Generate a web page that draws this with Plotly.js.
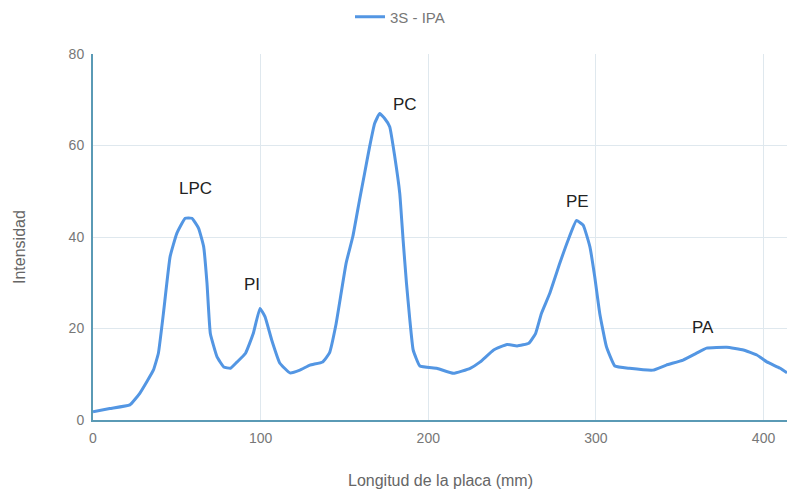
<!DOCTYPE html>
<html>
<head>
<meta charset="utf-8">
<script src="https://cdn.plot.ly/plotly-3.0.1.min.js"></script>
<style>html,body{margin:0;padding:0;background:#fff;}#chart{width:787px;height:493px;}</style>
</head>
<body>
<div id="chart"></div>
<script>
const seriesName = "3S - IPA";
const xMm = [0,10,22,28,36,39,42,46,50,55,59,63,66,68,70,74,78,82,86,91,95.6,99.6,102.6,106.6,111.5,117.5,123.4,129.4,137,141,145,151,155,159,162,165,168,171,174,177,180,183,185,187,189,191,195,205,215,225,231,239,247,253,260,264,267.5,272.5,278.5,283.4,288.4,292.4,296.4,299.3,302.3,306.3,311.3,320,334,342,352,360,366,378,388,396,402,410,414];
const intensity = [1.8,2.5,3.3,5.9,10.9,14.6,23.3,35.7,40.8,44.1,44.1,41.9,37.9,29.9,18.9,13.8,11.6,11.3,12.7,14.6,18.9,24.4,22.6,17.5,12.4,10.3,10.9,12.0,12.7,14.6,21,34.3,40.1,48.1,53.9,59.7,64.8,67.0,65.9,64.1,57.6,49.5,39.3,29.9,21.9,15.3,11.8,11.3,10.2,11.3,12.7,15.3,16.5,16.2,16.8,18.9,23.3,27.7,34.3,39.3,43.6,42.6,37.9,31.3,23.3,16.0,11.8,11.3,10.9,12.0,13.1,14.6,15.7,15.9,15.3,14.2,12.7,11.3,10.3];
const peakLabels = ["LPC","PI","PC","PE","PA"];
const peakX = [61,95,186,289,364];
const peakY = [50.7,29.7,68.9,47.7,20.3];
const xTicks = [0,100,200,300,400];
const yTicks = [0,20,40,60,80];

const FONT = "Liberation Sans, Arial, sans-serif";
const annotations = peakLabels.map((t,i)=>({
  x: peakX[i], y: peakY[i], text: t, showarrow: false,
  font: {family: FONT, size: 17, color: "#222"}
}));
annotations.push({xref: "paper", yref: "paper", x: (440-93)/694, y: -(480-420)/366,
  text: "Longitud de la placa (mm)", showarrow: false, xanchor: "center", yanchor: "middle",
  font: {family: FONT, size: 16, color: "#666"}});
annotations.push({xref: "paper", yref: "paper", x: -(93-19)/694, y: (420-247)/366,
  text: "Intensidad", showarrow: false, textangle: -90, xanchor: "center", yanchor: "middle",
  font: {family: FONT, size: 16, color: "#666"}});

Plotly.newPlot("chart", [{
  x: xMm, y: intensity, type: "scatter", mode: "lines", name: seriesName,
  line: {color: "#5396e3", width: 3, shape: "spline", smoothing: 0.35}
}], {
  width: 787, height: 493,
  margin: {l: 93, r: 0, t: 54, b: 73},
  paper_bgcolor: "#fff", plot_bgcolor: "#fff",
  font: {family: FONT, color: "#777", size: 13},
  showlegend: true,
  legend: {orientation: "h", x: (400-93)/694, xanchor: "center", y: 1 + (54-17)/366, yanchor: "middle",
           font: {size: 15, color: "#777"}},
  xaxis: {range: [0, 414], tickvals: xTicks, ticktext: xTicks.map(String),
          showgrid: true, gridcolor: "#dfe8ee", zeroline: false,
          showline: true, linecolor: "#5a9ab5", linewidth: 2,
          ticks: "outside", ticklen: 4, tickcolor: "rgba(0,0,0,0)", tickfont: {size: 14, color: "#777"}},
  yaxis: {range: [0, 80], tickvals: yTicks, ticktext: yTicks.map(String),
          showgrid: true, gridcolor: "#dfe8ee", zeroline: false,
          showline: true, linecolor: "#5a9ab5", linewidth: 2,
          ticks: "outside", ticklen: 4, tickcolor: "rgba(0,0,0,0)", tickfont: {size: 14, color: "#777"}},
  annotations: annotations
}, {displayModeBar: false, staticPlot: true});
</script>
</body>
</html>
